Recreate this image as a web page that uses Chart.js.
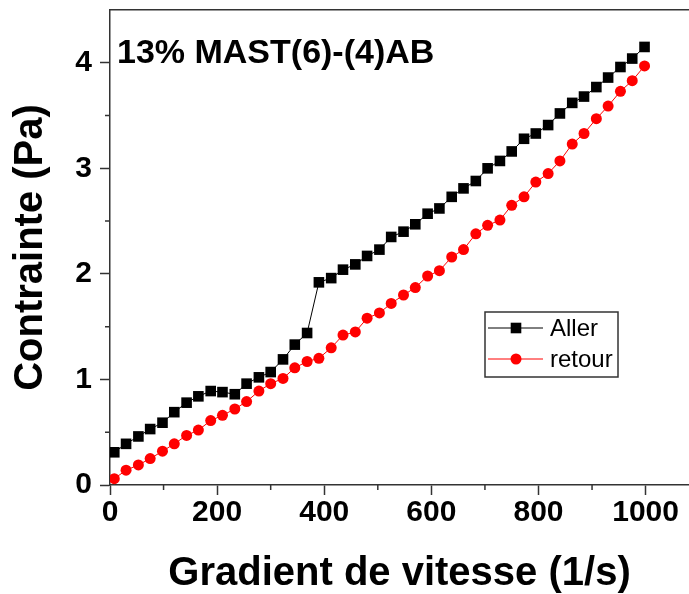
<!DOCTYPE html>
<html lang="fr">
<head>
    <meta charset="UTF-8">
    <title>Contrainte - 13% MAST(6)-(4)AB</title>
    <script src="https://cdn.jsdelivr.net/npm/chart.js"></script>
    <style>
        html, body { margin: 0; padding: 0; background: white; }
        #wrap { width: 689px; height: 594px; }
    </style>
</head>
<body>
    <div id="wrap">
        <canvas id="myChartCanvas" width="689" height="594"></canvas>
    </div>
<script>
    // gradient de vitesse (1/s)
    const gradient = [8, 30, 53, 75, 98, 120, 143, 165, 188, 210, 233, 255, 278, 300, 323,
        345, 368, 390, 413, 435, 458, 480, 503, 525, 548, 570, 593, 615, 638, 660,
        683, 705, 728, 750, 773, 795, 818, 840, 863, 885, 908, 930, 953, 975, 998];
    // contrainte (Pa)
    const aller = [0.31, 0.39, 0.46, 0.53, 0.59, 0.69, 0.78, 0.84, 0.89, 0.88, 0.86, 0.96, 1.02, 1.07, 1.19,
        1.33, 1.44, 1.92, 1.96, 2.04, 2.09, 2.17, 2.23, 2.35, 2.40, 2.47, 2.57, 2.62, 2.73, 2.81,
        2.88, 3.00, 3.07, 3.16, 3.28, 3.33, 3.41, 3.52, 3.62, 3.68, 3.77, 3.86, 3.96, 4.04, 4.15];
    const retour = [0.06, 0.14, 0.19, 0.25, 0.32, 0.39, 0.47, 0.52, 0.61, 0.66, 0.72, 0.79, 0.89, 0.96, 1.01,
        1.11, 1.17, 1.20, 1.30, 1.42, 1.45, 1.58, 1.63, 1.72, 1.80, 1.87, 1.98, 2.03, 2.16, 2.23,
        2.38, 2.46, 2.51, 2.65, 2.73, 2.87, 2.95, 3.07, 3.23, 3.33, 3.47, 3.59, 3.73, 3.83, 3.97];

    const xTicks = [0, 200, 400, 600, 800, 1000];
    const xMinor = [100, 300, 500, 700, 900];
    const yTicks = [0, 1, 2, 3, 4];
    const yMinor = [0.5, 1.5, 2.5, 3.5];

    const FONT = "'Liberation Sans', Arial, sans-serif";
    const AXIS = '#333333';

    // petits traits, titre et légende
    const decor = {
        id: 'decor',
        afterDraw(chart) {
            const ctx = chart.ctx;
            const area = chart.chartArea;
            const xs = chart.scales.x, ys = chart.scales.y;
            ctx.save();
            ctx.strokeStyle = AXIS;
            ctx.lineWidth = 1.5;
            ctx.beginPath();
            xMinor.forEach(v => {
                const px = xs.getPixelForValue(v);
                ctx.moveTo(px, area.bottom);
                ctx.lineTo(px, area.bottom + 5);
            });
            yMinor.forEach(v => {
                const py = ys.getPixelForValue(v);
                ctx.moveTo(area.left - 5, py);
                ctx.lineTo(area.left, py);
            });
            ctx.stroke();

            // titre
            ctx.fillStyle = '#000';
            ctx.font = 'bold 34px ' + FONT;
            ctx.textBaseline = 'alphabetic';
            ctx.textAlign = 'left';
            ctx.fillText('13% MAST(6)-(4)AB', area.left + 7, area.top + 53);

            // légende
            const bx = area.left + 375, by = area.top + 302, bw = 133, bh = 65;
            ctx.lineWidth = 1.5;
            ctx.strokeStyle = AXIS;
            ctx.strokeRect(bx, by, bw, bh);
            ctx.font = '24px ' + FONT;
            ctx.textBaseline = 'middle';
            chart.data.datasets.forEach((ds, i) => {
                const ly = by + 16 + i * 31;
                ctx.strokeStyle = ds.borderColor;
                ctx.lineWidth = 1;
                ctx.beginPath();
                ctx.moveTo(bx + 3, ly);
                ctx.lineTo(bx + 58, ly);
                ctx.stroke();
                ctx.fillStyle = ds.pointBackgroundColor;
                ctx.beginPath();
                if (ds.pointStyle === 'rect') {
                    const s = ds.pointRadius * Math.SQRT1_2;
                    ctx.rect(bx + 31 - s, ly - s, 2 * s, 2 * s);
                } else {
                    ctx.arc(bx + 31, ly, ds.pointRadius, 0, Math.PI * 2);
                }
                ctx.fill();
                ctx.fillStyle = '#000';
                ctx.fillText(ds.label, bx + 65, ly + 1);
            });
            ctx.restore();
        }
    };

    const ctx = document.getElementById('myChartCanvas').getContext('2d');
    const chartInstance = new Chart(ctx, {
        type: 'line',
        data: {
            datasets: [{
                label: 'Aller',
                data: gradient.map((g, i) => ({ x: g, y: aller[i] })),
                borderColor: '#000000',
                backgroundColor: '#000000',
                pointBackgroundColor: '#000000',
                pointBorderWidth: 0,
                pointStyle: 'rect',
                pointRadius: 7.5,
                borderWidth: 1,
                order: 1
            }, {
                label: 'retour',
                data: gradient.map((g, i) => ({ x: g, y: retour[i] })),
                borderColor: '#ff0000',
                backgroundColor: '#ff0000',
                pointBackgroundColor: '#ff0000',
                pointBorderWidth: 0,
                pointStyle: 'circle',
                pointRadius: 5.5,
                borderWidth: 1,
                order: 0
            }]
        },
        options: {
            responsive: false,
            animation: false,
            layout: { padding: 0, autoPadding: false },
            plugins: {
                legend: { display: false },
                tooltip: { enabled: false }
            },
            scales: {
                x: {
                    type: 'linear',
                    position: 'bottom',
                    min: 0,
                    max: 1081,
                    afterBuildTicks: s => { s.ticks = xTicks.map(v => ({ value: v })); },
                    afterFit: s => { s.height = 109; s.paddingLeft = 0; s.paddingRight = 0; },
                    grid: { drawOnChartArea: false, drawTicks: true, tickLength: 10, tickWidth: 1.5, tickColor: AXIS },
                    border: { color: AXIS, width: 1.5 },
                    ticks: {
                        autoSkip: false, maxRotation: 0, padding: 0,
                        color: '#000',
                        callback: v => String(v),
                        font: { family: FONT, size: 30, weight: 'bold' }
                    },
                    title: {
                        display: true,
                        text: 'Gradient de vitesse (1/s)',
                        color: '#000',
                        padding: { top: 0, bottom: -4 },
                        font: { family: FONT, size: 40, weight: 'bold' }
                    }
                },
                x2: {
                    type: 'linear',
                    position: 'top',
                    min: 0,
                    max: 1081,
                    afterFit: s => { s.height = 10; s.paddingLeft = 0; s.paddingRight = 0; },
                    grid: { display: false, drawOnChartArea: false, drawTicks: false },
                    border: { display: true, color: AXIS, width: 1.5 },
                    ticks: { display: false }
                },
                y: {
                    min: 0,
                    max: 4.5,
                    afterBuildTicks: s => { s.ticks = yTicks.map(v => ({ value: v })); },
                    afterFit: s => { s.width = 110; s.paddingTop = 0; s.paddingBottom = 0; },
                    grid: { drawOnChartArea: false, drawTicks: true, tickLength: 10, tickWidth: 1.5, tickColor: AXIS },
                    border: { color: AXIS, width: 1.5 },
                    ticks: {
                        padding: 8,
                        color: '#000',
                        callback: v => String(v),
                        font: { family: FONT, size: 30, weight: 'bold' }
                    },
                    title: {
                        display: true,
                        text: 'Contrainte (Pa)',
                        color: '#000',
                        padding: { top: 7, bottom: 0 },
                        font: { family: FONT, size: 40, weight: 'bold' }
                    }
                }
            }
        },
        plugins: [decor]
    });
</script>
</body>
</html>
